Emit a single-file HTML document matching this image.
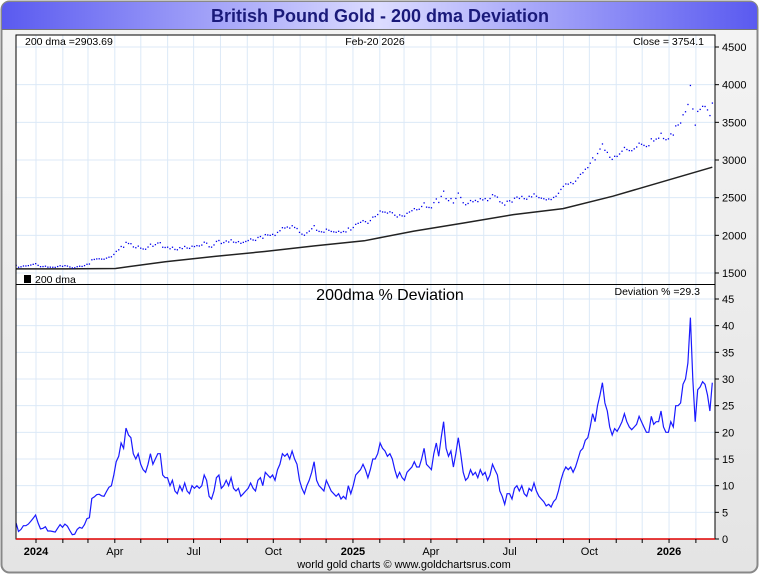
<!DOCTYPE html>
<html><head><meta charset="utf-8"><style>
body{margin:0;background:#fff;font-family:"Liberation Sans",sans-serif}
</style></head><body>
<svg id="chart" width="760" height="575" xmlns="http://www.w3.org/2000/svg" font-family="Liberation Sans, sans-serif">
<defs>
<linearGradient id="tg" x1="0" x2="1" y1="0" y2="0">
<stop offset="0" stop-color="#5a5af0"/><stop offset="0.5" stop-color="#dcdcff"/><stop offset="1" stop-color="#5a5af0"/></linearGradient>
<linearGradient id="bg" x1="0" x2="0" y1="0" y2="1"><stop offset="0" stop-color="#f4f4f4"/><stop offset="1" stop-color="#e4e4e4"/></linearGradient>
</defs>
<rect x="1.5" y="1.5" width="756" height="571" rx="8" fill="url(#bg)" stroke="#888" stroke-width="2"/>
<path d="M2,29 V10 Q2,2 10,2 H750 Q757,2 757,10 V29 Z" fill="url(#tg)"/>
<line x1="2" y1="29.5" x2="757" y2="29.5" stroke="#777"/>
<text x="380" y="22" text-anchor="middle" font-size="18" font-weight="bold" fill="#1a1a7a">British Pound Gold - 200 dma Deviation</text>
<rect x="16" y="35" width="699" height="504" fill="#fff"/>
<g id="grid"></g>
<g id="marks"></g>
<rect x="16" y="35" width="699" height="504" fill="none" stroke="#000"/>
<line x1="16" y1="284.5" x2="715" y2="284.5" stroke="#000"/>
<line x1="16" y1="539" x2="715" y2="539" stroke="#e00000" stroke-width="1.5"/>
<g id="axes" font-size="11"></g>
<text x="25" y="45" font-size="10.5">200 dma =2903.69</text>
<text x="375" y="45" font-size="10.5" text-anchor="middle">Feb-20  2026</text>
<text x="704" y="45" font-size="10.5" text-anchor="end">Close = 3754.1</text>
<rect x="24" y="275" width="7" height="8" fill="#000"/>
<text x="35" y="283" font-size="10.5">200 dma</text>
<text x="390" y="300" font-size="16" text-anchor="middle">200dma  %  Deviation</text>
<text x="700" y="295" font-size="10.5" text-anchor="end">Deviation % =29.3</text>
<text x="404" y="568" font-size="11" text-anchor="middle">world gold charts © www.goldchartsrus.com</text>
</svg>
<script>
const deviation=[3,1.4,1.8,2.5,2.5,2.8,3.3,3.9,4.5,3,1.9,2,2.3,1.5,1.5,1.4,1.3,2,2.7,2.2,2.8,2.4,1.6,0.8,0.9,1.8,2.2,2,2.7,3.8,4,7.6,7.9,8.3,8.4,8.1,8,8.9,9.7,10,12,14.5,15.5,18,17,20.8,19.5,19,16,15,16,14,13,12.5,14,16,14,15,16,16,12,11.5,11.5,10,11,9,8.5,10,9,10.5,9,8.5,10,9.5,10,9.5,10,12,11,8,7.5,9,11.5,12,9.5,10,11,10,11.5,9.5,9,9.5,8,8.5,9,9.5,10.5,9.5,9,11,11.5,10,12.5,12,11.5,12,11,13,14,16,15.5,16,15,16.5,15,14,11,9.5,8.5,10,11,12.5,14.5,11,10,9.5,9,11,10,9,8.5,8,8.5,7.5,8,7.5,10,8.5,10,12,12.5,13,14,13,11.5,13,15,15,16,18,17,16.5,15.5,16,15,13,11.5,12.5,11.5,11,12.5,13,13.5,14.5,13.5,13.5,15,17,14,13.5,13,16,18,15.5,19,22,17,15.5,16.5,13.5,16,19,16,12.5,11,11.5,13,12,12.5,11.5,13,12,12.5,11,12,14,13,12,9,8,6.5,8.5,8.5,7.5,9.5,10,9,10,8.5,8,9.5,9,10.5,9,8,7.5,7,6.2,6.5,6,7,7.5,9,11,12.5,13.5,13,13.5,12.5,13.5,15,16.5,17,18.5,19,21,23.5,22,25,27,29.3,25.5,24,21,19.5,20.7,20.2,21,22,23.5,22,21,20.5,21,21.5,23,22,21,20,20,23,21.5,22,22,24,21,20,20,22,21,25,25,25.5,29,30,33,41.5,30,22,28,28.5,29.5,29,27,24,29.3];
const dma=[1555,1555,1560,1650,1720,1786,1860,1928,2056,2164,2275,2355,2520,2712,2905];
const priceTicks=[1500,2000,2500,3000,3500,4000,4500];
const devTicks=[0,5,10,15,20,25,30,35,40,45];
const monthLabels=["2024","","","Apr","","","Jul","","","Oct","","","2025","","","Apr","","","Jul","","","Oct","","","2026",""];
const startDay=-23, endDay=781;
const NS="http://www.w3.org/2000/svg";
const X0=16,X1=715;
function xDay(d){return 36+d*0.866;}
function yPrice(v){return 273-(v-1500)*226/3000;}
function yDev(v){return 539-v*240/45;}
function mk(tag,attrs,parent){const e=document.createElementNS(NS,tag);for(const k in attrs)e.setAttribute(k,attrs[k]);parent.appendChild(e);return e;}
const grid=document.getElementById('grid'),marks=document.getElementById('marks'),axes=document.getElementById('axes');
const base=Date.UTC(2024,0,1);
monthLabels.forEach((lab,i)=>{
  const d=(Date.UTC(2024,i,1)-base)/86400000;const x=xDay(d);
  const gl=mk('line',{x1:x,x2:x,y1:35,y2:539,stroke:'#dce9f7'},grid);
  
  
  const tk=mk('line',{x1:x,x2:x,y1:539,y2:543,stroke:'#000'},axes);
  
  
  if(lab){const t=mk('text',{x:x,y:555,'text-anchor':'middle','font-size':'11','font-weight':lab.length==4?'bold':'normal'},axes);t.textContent=lab;
  
  }
});
priceTicks.forEach(v=>{const y=yPrice(v);
  const g=mk('line',{x1:X0,x2:X1,y1:y,y2:y,stroke:'#dce9f7'},grid);
  
  
  mk('line',{x1:X1,x2:X1+4,y1:y,y2:y,stroke:'#000'},axes);
  const t=mk('text',{x:722,y:y+4},axes);t.textContent=v;
  
  });
devTicks.forEach(v=>{const y=yDev(v);
  const g=mk('line',{x1:X0,x2:X1,y1:y,y2:y,stroke:'#dce9f7'},grid);
  
  
  mk('line',{x1:X1,x2:X1+4,y1:y,y2:y,stroke:'#000'},axes);
  const t=mk('text',{x:722,y:y+4},axes);t.textContent=v;
  
  });
function dayAt(i,n){return startDay+(endDay-startDay)*i/(n-1);}
function dmaAt(d){const f=(d-startDay)/(endDay-startDay)*(dma.length-1);const i=Math.min(Math.floor(f),dma.length-2);const t=f-i;return dma[i]+(dma[i+1]-dma[i])*t;}
let p=dma.map((v,i)=>(i?'L':'M')+xDay(dayAt(i,dma.length)).toFixed(1)+','+yPrice(v).toFixed(1)).join(' ');
const dl=mk('path',{d:p,fill:'none',stroke:'#222','stroke-width':'1.5'},marks);


const pg=mk('g',{fill:'#0000ee'},marks);


let dp='';
deviation.forEach((v,i)=>{const d=dayAt(i,deviation.length);const x=xDay(d);
  const price=dmaAt(d)*(1+v/100);
  const r=mk('rect',{x:x-0.6,y:yPrice(price)-0.6,width:1.3,height:1.3},pg);
  
  
  dp+=(i?'L':'M')+x.toFixed(1)+','+yDev(v).toFixed(1);});
const dv=mk('path',{d:dp,fill:'none',stroke:'#1a1aff','stroke-width':'1.2'},marks);


</script>
</body></html>
